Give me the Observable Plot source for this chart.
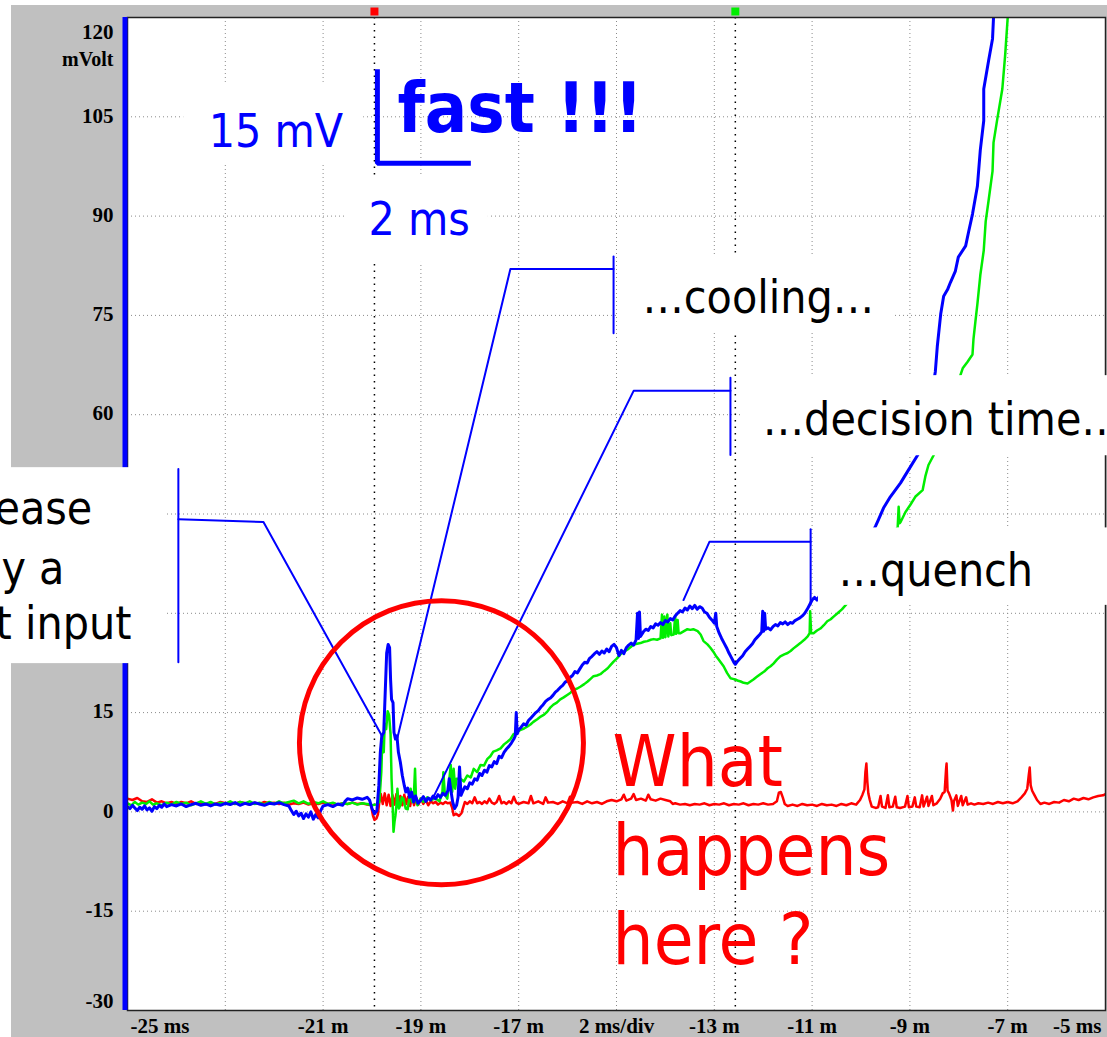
<!DOCTYPE html>
<html><head><meta charset="utf-8">
<script src="https://cdn.jsdelivr.net/npm/d3@7"></script>
<script src="https://cdn.jsdelivr.net/npm/@observablehq/plot@0.6"></script>
<style>
html,body{margin:0;padding:0;background:#fff;}
#chart{width:1107px;height:1037px;overflow:hidden;}
</style></head><body><div id="chart"></div>
<script>
// ---------- traces: [time ms, mV] ----------
const blueTrace = [
[-25.00,0.8],[-24.95,0.5],[-24.90,1.0],[-24.85,0.6],[-24.80,0.2],[-24.75,0.7],[-24.70,0.4],[-24.65,0.9],[-24.60,0.3],[-24.55,0.6],[-24.50,0.1],[-24.45,0.8],[-24.40,0.5],[-24.35,1.0],[-24.30,0.7],[-24.25,1.2],[-24.20,0.8],[-24.10,1.1],[-24.00,0.9],[-23.90,1.2],[-23.80,0.8],[-23.70,1.1],[-23.60,1.3],[-23.50,1.0],[-23.40,1.2],[-23.30,0.9],[-23.20,1.2],[-23.10,1.0],[-23.00,1.3],[-22.90,1.1],[-22.80,1.4],[-22.70,1.0],[-22.60,1.3],[-22.50,1.1],[-22.40,1.4],[-22.30,1.2],[-22.20,1.0],[-22.10,1.3],[-22.00,1.2],[-21.90,1.4],[-21.80,1.1],[-21.70,0.9],[-21.65,0.2],[-21.60,-0.4],[-21.55,0.1],[-21.50,-0.6],[-21.45,-0.2],[-21.40,-1.0],[-21.35,-0.3],[-21.30,-0.8],[-21.25,0.0],[-21.20,-1.1],[-21.15,-0.4],[-21.10,-0.9],[-21.05,0.2],[-21.00,0.9],[-20.90,1.1],[-20.80,0.8],[-20.70,1.2],[-20.60,1.0],[-20.55,1.6],[-20.50,2.0],[-20.40,1.8],[-20.30,2.1],[-20.20,1.9],[-20.10,2.2],[-20.05,1.8],[-20.00,0.5],[-19.95,-0.3],[-19.90,0.2],[-19.86,4.0],[-19.83,9.0],[-19.80,11.5],[-19.76,12.0],[-19.73,18.0],[-19.70,24.0],[-19.67,25.3],[-19.64,24.8],[-19.62,20.0],[-19.60,17.0],[-19.57,16.5],[-19.55,12.0],[-19.52,11.0],[-19.49,11.5],[-19.46,9.0],[-19.42,7.5],[-19.38,5.5],[-19.34,4.0],[-19.31,3.0],[-19.27,3.6],[-19.23,2.2],[-19.19,3.0],[-19.15,1.5],[-19.11,2.4],[-19.06,1.3],[-19.01,1.7],[-18.95,2.3],[-18.90,1.6],[-18.85,2.1],[-18.80,1.8],[-18.75,2.4],[-18.70,2.0],[-18.65,2.6],[-18.60,2.2],[-18.55,2.8],[-18.50,2.5],[-18.45,3.2],[-18.42,5.0],[-18.39,3.4],[-18.35,1.5],[-18.31,0.5],[-18.27,1.0],[-18.24,2.2],[-18.21,6.8],[-18.18,2.5],[-18.14,3.2],[-18.10,3.8],[-18.05,3.5],[-18.00,4.4],[-17.95,4.2],[-17.90,5.0],[-17.85,4.8],[-17.80,5.8],[-17.75,5.5],[-17.70,6.3],[-17.65,6.0],[-17.60,7.0],[-17.55,6.8],[-17.50,7.6],[-17.45,7.3],[-17.40,8.4],[-17.35,8.2],[-17.30,9.0],[-17.25,9.5],[-17.20,9.9],[-17.15,10.4],[-17.10,11.0],[-17.07,11.5],[-17.05,15.0],[-17.03,11.8],[-17.00,12.4],[-16.95,12.8],[-16.90,13.3],[-16.85,13.1],[-16.80,13.8],[-16.75,14.2],[-16.70,14.6],[-16.65,15.0],[-16.60,15.3],[-16.55,15.8],[-16.50,16.2],[-16.45,16.7],[-16.40,17.0],[-16.35,17.2],[-16.30,17.6],[-16.25,18.1],[-16.20,18.4],[-16.15,18.8],[-16.10,19.1],[-16.05,19.6],[-16.00,19.8],[-15.95,20.3],[-15.90,20.6],[-15.85,21.2],[-15.80,21.0],[-15.75,21.6],[-15.70,22.2],[-15.65,22.6],[-15.60,22.5],[-15.55,23.2],[-15.50,23.5],[-15.45,23.9],[-15.40,24.2],[-15.35,23.8],[-15.30,24.3],[-15.25,24.0],[-15.20,24.6],[-15.15,24.2],[-15.10,25.0],[-15.05,25.3],[-15.00,24.8],[-14.95,23.6],[-14.90,24.4],[-14.85,23.9],[-14.80,24.8],[-14.75,25.2],[-14.70,25.5],[-14.65,25.2],[-14.60,26.0],[-14.57,30.0],[-14.55,26.2],[-14.53,30.2],[-14.51,26.5],[-14.45,27.2],[-14.40,27.6],[-14.35,27.4],[-14.30,28.0],[-14.25,27.8],[-14.20,28.4],[-14.15,28.2],[-14.10,28.6],[-14.05,28.3],[-14.00,28.9],[-13.95,28.7],[-13.90,29.2],[-13.85,29.0],[-13.80,29.6],[-13.75,30.0],[-13.70,30.4],[-13.65,30.2],[-13.60,30.8],[-13.55,30.5],[-13.50,31.1],[-13.45,30.7],[-13.40,31.2],[-13.35,30.6],[-13.30,31.0],[-13.25,30.8],[-13.20,30.2],[-13.15,30.0],[-13.10,29.4],[-13.05,29.0],[-13.00,28.5],[-12.97,30.0],[-12.95,28.0],[-12.90,27.0],[-12.85,26.2],[-12.80,25.5],[-12.75,24.8],[-12.70,24.0],[-12.65,23.3],[-12.60,22.6],[-12.57,22.3],[-12.52,22.8],[-12.47,23.2],[-12.42,23.6],[-12.37,24.2],[-12.32,24.6],[-12.27,25.0],[-12.22,25.4],[-12.17,26.0],[-12.12,26.4],[-12.07,26.8],[-12.03,27.2],[-12.01,30.3],[-11.99,27.3],[-11.97,30.0],[-11.95,27.6],[-11.90,27.8],[-11.85,27.5],[-11.80,28.0],[-11.75,28.3],[-11.70,28.1],[-11.65,28.6],[-11.60,28.4],[-11.55,28.7],[-11.50,28.3],[-11.45,28.6],[-11.40,28.5],[-11.35,28.9],[-11.30,29.1],[-11.25,29.3],[-11.20,29.6],[-11.15,30.0],[-11.10,30.6],[-11.05,31.3],[-11.00,32.0],[-10.95,32.4],[-10.90,32.0],[-10.85,32.6],[-10.60,34.0],[-10.30,36.5],[-10.00,39.5],[-9.80,41.8],[-9.70,43.2],[-9.64,44.2],[-9.54,45.9],[-9.40,47.6],[-9.19,49.7],[-9.05,51.4],[-8.84,53.9],[-8.70,57.5],[-8.58,62.0],[-8.48,66.5],[-8.44,70.3],[-8.37,75.2],[-8.31,77.9],[-8.23,78.9],[-8.17,80.0],[-8.07,81.7],[-8.01,83.8],[-7.86,85.5],[-7.80,87.6],[-7.72,90.3],[-7.62,94.5],[-7.56,100.0],[-7.49,104.4],[-7.49,109.2],[-7.39,113.5],[-7.31,116.8],[-7.29,120.0],[-7.25,124.0]
];
const greenTrace = [
[-25.00,1.3],[-24.92,1.0],[-24.85,1.5],[-24.78,1.1],[-24.70,1.4],[-24.62,1.2],[-24.55,1.6],[-24.48,1.1],[-24.40,1.3],[-24.30,1.0],[-24.20,1.4],[-24.10,1.1],[-24.00,1.5],[-23.90,1.2],[-23.80,1.4],[-23.70,1.0],[-23.60,1.3],[-23.50,1.6],[-23.40,1.2],[-23.30,1.5],[-23.20,1.1],[-23.10,1.4],[-23.00,1.2],[-22.90,1.6],[-22.80,1.2],[-22.70,1.5],[-22.60,1.3],[-22.50,1.6],[-22.40,1.2],[-22.30,1.4],[-22.20,1.1],[-22.10,1.5],[-22.00,1.2],[-21.90,1.6],[-21.80,1.3],[-21.70,1.5],[-21.60,1.7],[-21.50,1.3],[-21.40,1.6],[-21.30,1.2],[-21.20,1.5],[-21.10,1.3],[-21.00,1.6],[-20.90,1.2],[-20.80,1.4],[-20.70,1.1],[-20.60,1.3],[-20.50,1.2],[-20.40,1.4],[-20.30,1.1],[-20.20,1.3],[-20.10,1.2],[-20.00,1.0],[-19.92,1.1],[-19.85,1.5],[-19.81,6.0],[-19.79,10.6],[-19.76,9.0],[-19.74,13.3],[-19.71,12.5],[-19.68,15.2],[-19.65,14.6],[-19.62,11.7],[-19.60,5.0],[-19.58,1.5],[-19.56,-3.0],[-19.54,-1.5],[-19.52,-0.5],[-19.50,1.0],[-19.48,3.5],[-19.45,0.5],[-19.42,1.0],[-19.39,2.2],[-19.36,2.0],[-19.31,0.5],[-19.27,0.4],[-19.24,2.0],[-19.21,3.5],[-19.18,1.5],[-19.15,1.5],[-19.12,6.5],[-19.10,1.8],[-19.07,1.0],[-19.01,2.0],[-18.95,1.5],[-18.87,2.2],[-18.80,1.8],[-18.70,2.0],[-18.62,1.6],[-18.56,3.0],[-18.54,6.0],[-18.51,2.6],[-18.46,2.0],[-18.43,4.0],[-18.39,7.1],[-18.36,3.0],[-18.33,6.5],[-18.30,3.5],[-18.27,5.0],[-18.19,5.0],[-18.12,4.6],[-18.05,5.5],[-17.98,5.2],[-17.92,6.5],[-17.85,6.0],[-17.78,7.1],[-17.71,7.0],[-17.64,8.0],[-17.58,8.4],[-17.52,9.1],[-17.45,9.3],[-17.37,9.6],[-17.30,10.2],[-17.23,10.6],[-17.17,11.0],[-17.11,11.7],[-17.04,12.0],[-16.96,12.4],[-16.89,12.6],[-16.82,12.9],[-16.76,13.2],[-16.70,13.6],[-16.62,14.0],[-16.55,14.4],[-16.48,14.7],[-16.41,15.2],[-16.35,15.8],[-16.29,16.2],[-16.22,16.5],[-16.15,17.0],[-16.08,17.3],[-16.00,17.7],[-15.94,18.0],[-15.88,18.5],[-15.81,18.6],[-15.74,18.9],[-15.66,19.3],[-15.59,19.7],[-15.53,20.1],[-15.47,20.5],[-15.40,20.6],[-15.33,20.8],[-15.25,21.3],[-15.18,21.7],[-15.12,22.2],[-15.06,22.7],[-14.99,23.2],[-14.92,23.8],[-14.85,24.2],[-14.78,24.5],[-14.71,24.9],[-14.65,25.3],[-14.58,25.4],[-14.51,25.5],[-14.44,25.7],[-14.37,25.8],[-14.30,26.0],[-14.24,26.1],[-14.17,26.0],[-14.10,26.2],[-14.07,29.8],[-14.05,26.3],[-14.02,29.5],[-14.00,26.4],[-13.96,29.8],[-13.94,26.5],[-13.90,28.5],[-13.88,26.7],[-13.83,26.8],[-13.80,29.6],[-13.78,26.9],[-13.75,29.0],[-13.73,27.0],[-13.69,27.0],[-13.62,27.3],[-13.55,27.6],[-13.49,27.5],[-13.43,27.6],[-13.34,27.3],[-13.28,26.8],[-13.22,25.8],[-13.14,25.3],[-13.08,24.8],[-13.02,24.2],[-12.97,23.6],[-12.93,23.2],[-12.87,22.6],[-12.81,22.0],[-12.74,21.0],[-12.67,20.2],[-12.62,20.1],[-12.57,20.0],[-12.51,19.8],[-12.46,19.7],[-12.40,19.5],[-12.32,19.4],[-12.26,19.7],[-12.20,20.0],[-12.13,20.4],[-12.06,20.8],[-11.98,21.2],[-11.91,21.7],[-11.85,22.0],[-11.79,22.4],[-11.72,23.0],[-11.65,23.5],[-11.57,23.8],[-11.50,24.0],[-11.44,24.3],[-11.38,24.7],[-11.31,25.1],[-11.24,25.5],[-11.16,26.0],[-11.09,26.5],[-11.05,27.0],[-11.04,30.3],[-11.02,27.0],[-10.97,27.0],[-10.90,27.4],[-10.83,27.7],[-10.76,28.2],[-10.69,28.8],[-10.62,29.1],[-10.56,29.5],[-10.48,30.0],[-10.39,30.6],[-10.20,32.2],[-9.90,35.5],[-9.60,39.0],[-9.35,42.0],[-9.25,43.0],[-9.23,46.1],[-9.21,43.6],[-9.19,43.8],[-9.09,45.3],[-8.99,46.4],[-8.89,47.6],[-8.74,48.6],[-8.68,50.8],[-8.62,52.4],[-8.52,53.8],[-8.30,58.0],[-8.10,62.5],[-7.97,65.9],[-7.92,67.0],[-7.82,68.0],[-7.72,69.1],[-7.70,71.4],[-7.66,74.1],[-7.62,76.7],[-7.56,81.1],[-7.49,84.8],[-7.45,89.2],[-7.39,92.4],[-7.31,96.8],[-7.29,101.1],[-7.21,104.8],[-7.11,109.2],[-7.05,114.5],[-7.00,120.0],[-6.97,124.0]
];
const redTrace = [
[-25.00,2.0],[-24.90,1.8],[-24.80,2.1],[-24.70,1.6],[-24.60,1.5],[-24.50,1.9],[-24.40,1.4],[-24.30,1.6],[-24.20,1.3],[-24.10,1.5],[-24.00,1.2],[-23.90,1.5],[-23.80,1.3],[-23.70,1.6],[-23.60,1.2],[-23.50,1.4],[-23.40,1.1],[-23.30,1.4],[-23.20,1.2],[-23.10,1.5],[-23.00,1.3],[-22.90,1.4],[-22.80,1.2],[-22.70,1.5],[-22.60,1.3],[-22.50,1.1],[-22.40,1.4],[-22.30,1.2],[-22.20,1.5],[-22.10,1.3],[-22.00,1.4],[-21.90,1.2],[-21.80,1.4],[-21.70,1.1],[-21.60,1.3],[-21.50,1.2],[-21.40,1.4],[-21.30,1.1],[-21.20,1.3],[-21.10,1.2],[-21.00,1.4],[-20.90,1.2],[-20.80,1.3],[-20.70,1.1],[-20.60,1.3],[-20.50,1.2],[-20.40,1.4],[-20.30,1.2],[-20.20,1.3],[-20.10,1.1],[-20.02,1.0],[-19.98,-0.6],[-19.95,-1.2],[-19.91,-1.0],[-19.88,-0.4],[-19.85,1.5],[-19.82,2.7],[-19.78,1.2],[-19.74,2.8],[-19.70,1.0],[-19.66,2.6],[-19.62,0.9],[-19.58,2.5],[-19.54,1.1],[-19.50,2.7],[-19.46,0.8],[-19.42,2.4],[-19.38,1.0],[-19.34,2.6],[-19.30,1.2],[-19.26,2.3],[-19.22,0.9],[-19.18,2.5],[-19.14,1.0],[-19.10,2.2],[-19.05,1.1],[-19.00,2.0],[-18.95,1.2],[-18.90,1.8],[-18.85,1.0],[-18.80,1.6],[-18.75,1.3],[-18.70,1.5],[-18.65,1.1],[-18.60,1.4],[-18.55,1.2],[-18.50,1.5],[-18.45,1.3],[-18.40,1.4],[-18.36,0.6],[-18.33,-0.5],[-18.28,-0.3],[-18.22,-0.6],[-18.17,-0.2],[-18.13,0.8],[-18.10,1.5],[-18.05,1.2],[-18.00,1.6],[-17.95,1.3],[-17.90,2.2],[-17.85,1.3],[-17.80,1.5],[-17.75,1.2],[-17.70,1.6],[-17.65,1.3],[-17.60,2.0],[-17.55,1.4],[-17.50,1.2],[-17.45,1.5],[-17.40,2.4],[-17.35,1.3],[-17.30,1.5],[-17.25,1.2],[-17.20,1.6],[-17.15,1.3],[-17.10,2.3],[-17.05,1.4],[-17.00,1.2],[-16.90,1.5],[-16.80,1.3],[-16.75,2.4],[-16.70,1.3],[-16.60,1.6],[-16.50,1.2],[-16.45,2.2],[-16.40,1.4],[-16.30,1.5],[-16.20,1.2],[-16.10,1.6],[-16.00,1.3],[-15.95,2.3],[-15.90,1.4],[-15.80,1.5],[-15.70,1.2],[-15.60,1.6],[-15.50,1.3],[-15.40,1.5],[-15.30,1.2],[-15.20,1.6],[-15.10,1.8],[-15.00,1.6],[-14.90,1.9],[-14.85,2.6],[-14.80,1.7],[-14.70,2.0],[-14.65,2.7],[-14.60,1.8],[-14.50,2.0],[-14.40,1.7],[-14.35,2.6],[-14.30,1.9],[-14.20,1.7],[-14.10,2.0],[-14.00,1.8],[-13.90,1.6],[-13.85,1.2],[-13.80,1.3],[-13.70,1.1],[-13.60,1.2],[-13.50,1.0],[-13.40,1.2],[-13.30,1.1],[-13.20,1.3],[-13.10,1.0],[-13.00,1.2],[-12.90,1.1],[-12.80,1.3],[-12.70,1.0],[-12.60,1.2],[-12.50,1.1],[-12.40,1.3],[-12.30,1.0],[-12.20,1.2],[-12.10,1.1],[-12.00,1.3],[-11.90,1.1],[-11.80,1.2],[-11.72,1.6],[-11.68,2.9],[-11.64,3.0],[-11.60,2.2],[-11.56,1.2],[-11.50,0.9],[-11.40,1.1],[-11.30,0.9],[-11.20,1.2],[-11.10,1.0],[-11.00,1.1],[-10.90,0.9],[-10.80,1.2],[-10.70,1.0],[-10.60,1.1],[-10.50,0.9],[-10.40,1.2],[-10.30,1.0],[-10.20,1.3],[-10.10,1.1],[-10.02,1.8],[-9.97,2.6],[-9.93,3.4],[-9.91,6.0],[-9.89,7.3],[-9.87,4.5],[-9.85,2.8],[-9.82,1.8],[-9.78,0.8],[-9.70,0.6],[-9.65,0.7],[-9.60,2.4],[-9.57,0.8],[-9.50,0.6],[-9.45,2.5],[-9.42,0.7],[-9.35,0.8],[-9.30,2.3],[-9.27,0.7],[-9.20,0.6],[-9.10,0.8],[-9.05,2.4],[-9.02,0.7],[-8.95,0.8],[-8.90,2.2],[-8.87,0.8],[-8.80,0.7],[-8.75,2.5],[-8.72,0.8],[-8.65,2.3],[-8.62,0.9],[-8.55,2.4],[-8.52,1.0],[-8.45,1.3],[-8.38,2.0],[-8.33,2.8],[-8.29,3.0],[-8.26,6.5],[-8.25,7.3],[-8.23,3.2],[-8.20,2.8],[-8.15,1.8],[-8.12,0.2],[-8.10,1.6],[-8.05,2.5],[-8.02,0.9],[-7.95,2.4],[-7.92,1.0],[-7.85,2.2],[-7.82,1.1],[-7.75,1.3],[-7.68,1.1],[-7.60,1.3],[-7.50,1.2],[-7.40,1.4],[-7.30,1.2],[-7.20,1.5],[-7.10,1.3],[-7.00,1.5],[-6.90,1.3],[-6.80,1.6],[-6.72,2.2],[-6.65,2.8],[-6.60,3.5],[-6.57,5.5],[-6.55,6.7],[-6.53,4.0],[-6.50,3.2],[-6.45,2.5],[-6.40,1.8],[-6.33,1.2],[-6.25,1.4],[-6.15,1.2],[-6.05,1.5],[-5.95,1.4],[-5.85,1.8],[-5.75,1.6],[-5.65,2.0],[-5.55,1.8],[-5.45,2.1],[-5.35,1.9],[-5.25,2.2],[-5.15,2.4],[-5.05,2.5],[-5.00,2.7]
];

// ---------- axes ----------
const yGridValues = [105, 90, 75, 60, 45, 30, 15, 0, -15];
// 45 and 30 are hidden behind the left call-out box in the reference
const yLabelValues = [105, 90, 75, 60, 15, 0, -15];
const yTickLabels = ["105", "90", "75", "60", "15", "0", "-15"];
const xGridValues = [-23, -21, -19, -17, -15, -13, -11, -9, -7];
const xLabelTimes = [-21, -19, -17, -15, -13, -11, -9, -7];
const xLabelTexts = ["-21 m", "-19 m", "-17 m", "2 ms/div", "-13 m", "-11 m", "-9 m", "-7 m"];
const cursorTimes = [-19.95, -12.57];
const cursorColors = ["#ff0000", "#00ee00"];

// ---------- annotations (data units: ms, mV) ----------
const boxNames = ["15mV", "2ms", "cooling", "decision", "quench", "release"];
const boxT1 = [-23.85, -20.54, -14.98, -12.46, -10.87, -27.7];
const boxT2 = [-20.17, -17.62, -9.34, -4.9, -4.9, -24.22];
const boxV1 = [97.7, 83.0, 72.3, 53.8, 31.2, 22.4];
const boxV2 = [110.2, 95.9, 84.1, 65.9, 42.9, 52.0];

const scaleBar = [[-19.89, 111.8], [-19.89, 98.0], [-18.03, 98.0]];
const calloutPaths = {
  release: [[-23.96, 44.2], [-22.22, 43.8], [-19.79, 11.4]],
  releaseBar: [[-23.96, 51.8], [-23.96, 22.6]],
  cooling: [[-15.06, 82.0], [-17.17, 82.0], [-19.48, 11.2]],
  coolingBar: [[-15.06, 83.9], [-15.06, 72.3]],
  decision: [[-12.67, 63.6], [-14.65, 63.6], [-18.76, 2.0]],
  decisionBar: [[-12.67, 65.6], [-12.67, 53.9]],
  quench: [[-11.03, 40.8], [-13.10, 40.8], [-13.63, 32.0]],
  quenchBar: [[-11.03, 42.7], [-11.03, 31.4]]
};
const circleCenter = [{t: -18.58, v: 10.45}];

const blueLabels = [
  {t: -23.34, v: 100.5, text: "15 mV"},
  {t: -20.07, v: 87.1, text: "2 ms"}
];
const fastLabel = [{t: -19.48, v: 102.7, text: "fast !!!"}];
const blackLabelsStart = [
  {t: -14.47, v: 75.3, text: "…cooling…"},
  {t: -12.01, v: 57.0, text: "…decision time…"},
  {t: -10.46, v: 34.1, text: "…quench"}
];
const blackLabelsEnd = [
  {t: -25.72, v: 43.5, text: "ease"},
  {t: -26.29, v: 34.5, text: "y a"},
  {t: -24.92, v: 26.1, text: "t input"}
];
const questionLabel = [{t: -15.08, v: -23.0, text: "What\nhappens\nhere ?"}];

// ---------- build tables ----------
const rows = (arr, name) => arr.map(([t, v]) => ({t, v, name}));
const boxes = boxNames.map((n, i) => ({n, t1: boxT1[i], t2: boxT2[i], v1: boxV1[i], v2: boxV2[i]}));
const calloutRows = Object.entries(calloutPaths).flatMap(([k, pts]) => pts.map(([t, v]) => ({t, v, k})));
const yLabelRows = yLabelValues.map((v, i) => ({v, label: yTickLabels[i]}));
const xLabelRows = xLabelTimes.map((t, i) => ({t, label: xLabelTexts[i]}));
const cursorRows = cursorTimes.map((t, i) => ({t, c: cursorColors[i]}));

const BLUE = "#0000ff", GREEN = "#00ee00", RED = "#ff0000";
const SANS = '"DejaVu Sans Condensed", "DejaVu Sans", sans-serif';
const SERIF = '"Liberation Serif", "Times New Roman", serif';
const axisFont = {fontFamily: SERIF, fontWeight: "bold", fill: "#000"};

const chart = Plot.plot({
  width: 1107, height: 1037,
  marginLeft: 127, marginRight: 2, marginTop: 17, marginBottom: 27,
  x: {domain: [-25, -5], axis: null},
  y: {domain: [-30, 120], axis: null},
  marks: [
    Plot.frame({fill: "white"}),
    Plot.ruleY(yGridValues, {stroke: "#8a8a8a", strokeDasharray: "1,3", strokeWidth: 1}),
    Plot.ruleX(xGridValues, {stroke: "#8a8a8a", strokeDasharray: "1,3", strokeWidth: 1}),
    Plot.ruleX(cursorRows, {x: "t", stroke: "#000", strokeDasharray: "1.5,5", strokeWidth: 1.5}),
    Plot.line(rows(redTrace, "red"), {x: "t", y: "v", stroke: RED, strokeWidth: 2.5, clip: true}),
    Plot.line(rows(greenTrace, "green"), {x: "t", y: "v", stroke: GREEN, strokeWidth: 2.5, clip: true}),
    Plot.line(rows(blueTrace, "blue"), {x: "t", y: "v", stroke: BLUE, strokeWidth: 3, clip: true}),
    Plot.frame({stroke: "#222", strokeWidth: 1.5}),
    Plot.ruleX([-25], {stroke: BLUE, strokeWidth: 5, dx: -2.5}),
    // y labels
    Plot.text(yLabelRows, {x: -25, y: "v", text: "label", textAnchor: "end", dx: -14, dy: -1, fontSize: 21, ...axisFont}),
    Plot.text(["120"], {x: -25, y: 120, text: d => d, textAnchor: "end", dx: -14, dy: 15, fontSize: 21, ...axisFont}),
    Plot.text(["mVolt"], {x: -25, y: 120, text: d => d, textAnchor: "end", dx: -14, dy: 42, fontSize: 20, ...axisFont}),
    Plot.text(["-30"], {x: -25, y: -30, text: d => d, textAnchor: "end", dx: -14, dy: -9, fontSize: 21, ...axisFont}),
    // x labels
    Plot.text(xLabelRows, {x: "t", y: -30, text: "label", dy: 16, fontSize: 21, ...axisFont}),
    Plot.text(["-25 ms"], {x: -25, y: -30, text: d => d, textAnchor: "start", dx: 3, dy: 16, fontSize: 21, ...axisFont}),
    Plot.text(["-5 ms"], {x: -5, y: -30, text: d => d, textAnchor: "end", dx: -4, dy: 16, fontSize: 21, ...axisFont}),
    // cursor flags
    Plot.dot(cursorRows, {x: "t", y: 120, dy: -6, symbol: "square", r: 4.5, fill: "c", stroke: "none"}),
    // white annotation boxes
    Plot.rect(boxes, {x1: "t1", x2: "t2", y1: "v1", y2: "v2", fill: "white"}),
    // scale bar
    Plot.line(scaleBar, {x: d => d[0], y: d => d[1], stroke: BLUE, strokeWidth: 5, strokeLinejoin: "miter", strokeLinecap: "square"}),
    // callouts
    Plot.line(calloutRows, {x: "t", y: "v", z: "k", stroke: BLUE, strokeWidth: 2}),
    // circle
    Plot.dot(circleCenter, {x: "t", y: "v", r: 142, stroke: RED, strokeWidth: 5, fill: "none"}),
    // texts
    Plot.text(blueLabels, {x: "t", y: "v", text: "text", textAnchor: "start", lineAnchor: "bottom",
      fontFamily: SANS, fontSize: 46, fill: BLUE}),
    Plot.text(fastLabel, {x: "t", y: "v", text: "text", textAnchor: "start", lineAnchor: "bottom",
      fontFamily: SANS, fontWeight: "bold", fontSize: 70, fill: BLUE}),
    Plot.text(blackLabelsStart, {x: "t", y: "v", text: "text", textAnchor: "start", lineAnchor: "bottom",
      fontFamily: SANS, fontSize: 46, fill: "#000"}),
    Plot.text(blackLabelsEnd, {x: "t", y: "v", text: "text", textAnchor: "end", lineAnchor: "bottom",
      fontFamily: SANS, fontSize: 46, fill: "#000"}),
    Plot.text(questionLabel, {x: "t", y: "v", text: "text", textAnchor: "start", lineAnchor: "bottom",
      lineHeight: 1.24, fontFamily: SANS, fontSize: 72, fill: RED})
  ]
});
chart.style.background = "linear-gradient(#c0c0c0,#c0c0c0) 11px 5px / 1096px 1032px no-repeat, #ffffff";
chart.style.maxWidth = "none";
document.getElementById("chart").appendChild(chart);
</script></body></html>
